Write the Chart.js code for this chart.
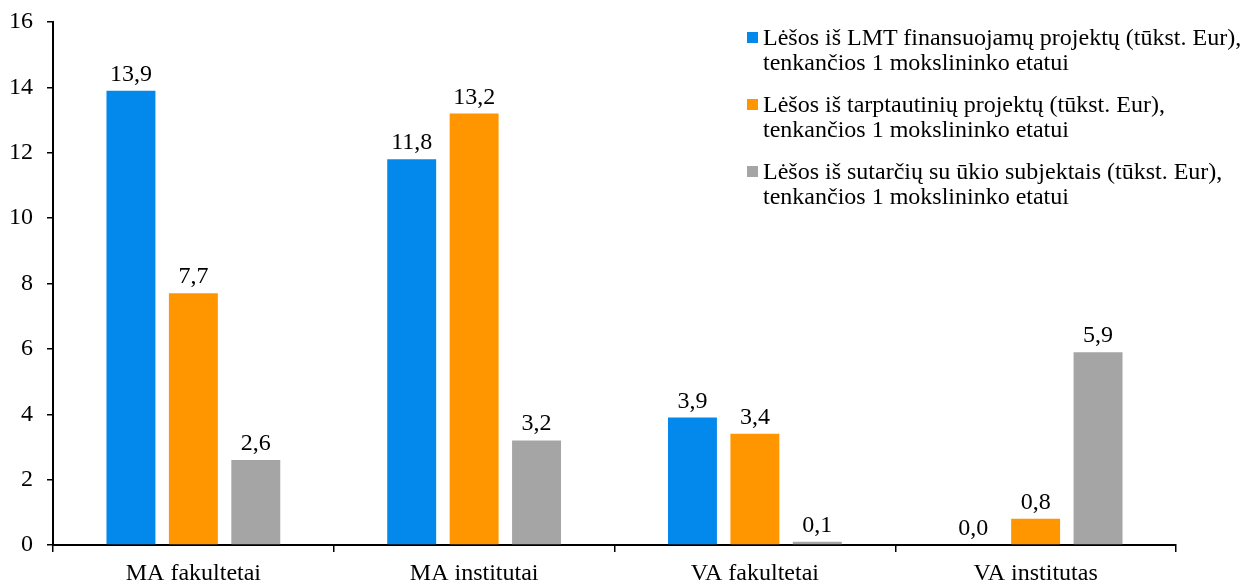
<!DOCTYPE html>
<html>
<head>
<meta charset="utf-8">
<script src="https://cdn.jsdelivr.net/npm/chart.js@4/dist/chart.umd.min.js"></script>
<style>
  body { margin: 0; background: #fff; }
  #wrap { position: relative; width: 1243px; height: 584px; }
  #legend { position: absolute; left: 747px; top: 25px; font-family: 'Liberation Serif', 'Times New Roman', serif; font-size: 24px; line-height: 25px; color: #000; white-space: nowrap; }
  #legend .item { position: relative; padding-left: 16px; margin-bottom: 17px; }
  #legend .box { position: absolute; left: 0; top: 7px; width: 11px; height: 11px; }
</style>
</head>
<body>
<div id="wrap">
  <canvas id="barChart" width="1243" height="584"></canvas>
  <div id="legend"></div>
</div>
<script>
const categories = ['MA fakultetai', 'MA institutai', 'VA fakultetai', 'VA institutas'];
const lmtValues = [13.9, 11.8, 3.9, 0.0];
const intlValues = [7.7, 13.2, 3.4, 0.8];
const businessValues = [2.6, 3.2, 0.1, 5.9];
const seriesLabels = [
  ['Lėšos iš LMT finansuojamų projektų (tūkst. Eur),', 'tenkančios 1 mokslininko etatui'],
  ['Lėšos iš tarptautinių projektų (tūkst. Eur),', 'tenkančios 1 mokslininko etatui'],
  ['Lėšos iš sutarčių su ūkio subjektais (tūkst. Eur),', 'tenkančios 1 mokslininko etatui']
];
const seriesColors = ['rgb(3,137,236)', 'rgb(255,150,0)', 'rgb(165,165,165)'];
const yTicks = [0, 2, 4, 6, 8, 10, 12, 14, 16];

const serif = "'Liberation Serif', 'Times New Roman', serif";

// value labels above each bar
const valueLabels = {
  id: 'valueLabels',
  afterDatasetsDraw(chart) {
    const ctx = chart.ctx;
    ctx.save();
    ctx.font = '24px ' + serif;
    ctx.fillStyle = '#000';
    ctx.textAlign = 'center';
    ctx.textBaseline = 'alphabetic';
    chart.data.datasets.forEach((ds, i) => {
      chart.getDatasetMeta(i).data.forEach((bar, j) => {
        const txt = ds.data[j].toFixed(1).replace('.', ',');
        ctx.fillText(txt, bar.x, bar.y - 10);
      });
    });
    ctx.restore();
  }
};

const dataSets = [lmtValues, intlValues, businessValues].map((vals, i) => ({
  label: seriesLabels[i].join(' '),
  data: vals,
  backgroundColor: seriesColors[i],
  borderWidth: 0,
  barPercentage: 0.784,
  categoryPercentage: 0.667
}));

let ctx = document.getElementById('barChart');
window.barChart = new Chart(ctx, {
  type: 'bar',
  data: { labels: categories, datasets: dataSets },
  options: {
    responsive: false,
    animation: false,
    layout: { padding: { top: 22, right: 67, left: 0, bottom: 0 } },
    plugins: {
      legend: { display: false },
      tooltip: { enabled: false }
    },
    scales: {
      x: {
        grid: { display: true, drawOnChartArea: false, drawTicks: true, tickLength: 7, color: '#000', lineWidth: 1.5 },
        border: { color: '#000', width: 2 },
        ticks: { color: '#000', font: { family: serif, size: 24 }, padding: 7 },
        afterFit(scale) { scale.height = 39; }
      },
      y: {
        min: 0,
        max: 16,
        afterBuildTicks(scale) { scale.ticks = yTicks.map(v => ({ value: v })); },
        grid: { display: true, drawOnChartArea: false, drawTicks: true, tickLength: 6, color: '#000', lineWidth: 1.5 },
        border: { color: '#000', width: 2 },
        ticks: { color: '#000', font: { family: serif, size: 24, lineHeight: 1 }, padding: 14 },
        afterFit(scale) {
          scale.width = 53;
          scale.paddingTop = 0;
          scale.paddingBottom = 0;
        }
      }
    }
  },
  plugins: [valueLabels]
});

const legendEl = document.getElementById('legend');
seriesLabels.forEach((lines, i) => {
  const item = document.createElement('div');
  item.className = 'item';
  const box = document.createElement('span');
  box.className = 'box';
  box.style.background = seriesColors[i];
  item.appendChild(box);
  lines.forEach(l => {
    const d = document.createElement('div');
    d.textContent = l;
    item.appendChild(d);
  });
  legendEl.appendChild(item);
});
</script>
</body>
</html>
